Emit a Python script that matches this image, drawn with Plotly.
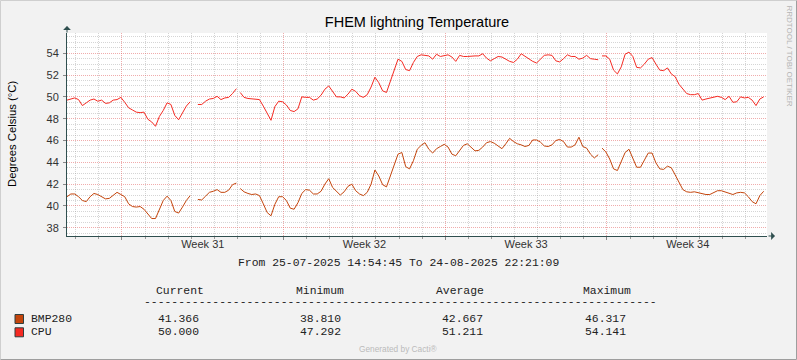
import numpy as np
import pandas as pd
import plotly.graph_objects as go

# ---------------- data ----------------
start_time = "2025-07-25 14:54:45"
end_time = "2025-08-24 22:21:09"
sample_step = "4h"

cpu_values = [
    49.7, 49.8, 49.9, 49.75, 49.2, 49.45, 49.7, 49.8, 49.6, 49.7,
    49.4, 49.45, 49.7, 49.75, 49.95, 49.5, 49.0, 48.8, 48.6, 48.55,
    48.6, 47.95, 47.7, 47.3, 48.2, 48.75, 49.45, 49.3, 48.3, 47.9,
    48.6, 49.15, 49.55, None, 49.3, 49.3, 49.6, 49.8, 49.85, 50.05,
    49.75, 49.9, 49.95, 50.3, 50.75, 50.4, 49.95, 49.85, 49.8, 49.8,
    49.75, 49.15, 48.45, 47.85, 49.1, 49.6, 49.55, 49.25, 48.75, 48.65,
    48.9, 50.0, 49.95, 49.95, 49.7, 49.8, 50.15, 50.7, 51.0, 50.45,
    50.0, 50.0, 49.9, 50.25, 50.7, 50.5, 50.1, 49.95, 50.2, 50.9,
    51.8, 51.3, 50.55, 50.4, 51.4, 52.5, 53.45, 53.25, 52.5, 52.4,
    53.15, 53.7, 53.85, 53.8, 53.75, 53.45, 53.9, 53.7, 53.8, 53.85,
    53.65, 53.25, 53.8, 53.7, 53.7, 53.75, 53.75, 53.75, 53.95, 53.55,
    53.3, 53.5, 53.7, 53.65, 53.45, 53.25, 53.15, 53.45, 53.95, 53.7,
    53.45, 53.25, 53.1, 53.45, 53.8, 53.85, 53.8, 53.3, 53.2, 53.5,
    53.85, 53.7, 53.7, 53.45, 53.55, 53.8, 53.5, 53.45, 53.4, 53.75,
    53.75, 53.45, 52.45, 52.1, 52.75, 53.9, 54.1, 53.7, 52.7, 52.65,
    53.0, 53.45, 53.6, 53.0, 52.45, 52.4, 52.65, 52.1, 51.85, 51.15,
    50.75, 50.3, 50.2, 50.2, 50.3, 49.7, 49.8, 49.9, 49.95, 50.05,
    49.95, 49.75, 50.05, 49.5, 49.55, 50.0, 49.9, 49.95, 49.7, 49.2,
    49.8, 50.0,
]

bmp_values = [
    40.85, 41.1, 41.1, 40.85, 40.5, 40.4, 40.85, 41.15, 41.05, 40.85,
    40.65, 40.7, 40.95, 41.25, 41.05, 40.85, 40.2, 39.95, 39.9, 39.95,
    39.7, 39.3, 38.85, 38.85, 39.7, 40.5, 40.9, 40.5, 39.5, 39.35,
    39.9, 40.5, 40.95, None, 40.6, 40.55, 40.9, 41.25, 41.35, 41.5,
    41.25, 41.25, 41.45, 41.95, 42.1, 41.6, 41.3, 41.15, 41.05, 41.1,
    40.95, 40.2, 39.4, 39.1, 40.15, 40.85, 40.85, 40.5, 39.8, 39.7,
    40.3, 41.15, 41.5, 41.45, 41.1, 41.1, 41.35, 42.0, 42.5, 41.7,
    41.3, 41.0, 41.3, 41.8, 42.0, 41.4, 41.1, 40.95, 41.25, 42.0,
    43.3, 42.75, 41.95, 41.75, 42.75, 43.8, 44.75, 44.9, 43.6, 43.4,
    44.15, 45.2, 45.55, 45.8, 45.2, 44.85, 45.25, 45.45, 45.65, 45.4,
    44.75, 44.6, 45.1, 45.55, 45.7, 45.4, 45.05, 45.1, 45.4, 45.8,
    45.9, 45.75, 45.5, 45.25, 45.7, 46.2, 45.9, 45.7, 45.6, 45.45,
    45.55, 46.05, 46.05, 45.85, 45.5, 45.45, 45.6, 46.0, 46.1, 45.9,
    45.4, 45.4, 45.6, 46.3, 45.45, 45.3, 44.75, 44.4, 44.7, 45.3,
    44.95, 44.3, 43.4, 43.25, 44.1, 44.9, 45.2, 44.45, 43.55, 43.55,
    44.15, 44.85, 44.85, 43.95, 43.4, 43.35, 43.65, 43.5, 42.85, 42.1,
    41.5, 41.3, 41.25, 41.3, 41.2, 41.15, 41.05, 41.05, 41.25, 41.4,
    41.4, 41.3, 41.2, 41.05, 41.2, 41.25, 41.2, 40.85, 40.4, 40.2,
    40.95, 41.35,
]

# times where the recorded data has holes
gap_times = ["2025-08-02 00:54:45", "2025-08-17 16:54:45"]

series_names = ["BMP280", "CPU"]
series_colors = ["#C4450C", "#F52A22"]
stat_headers = ["Current", "Minimum", "Average", "Maximum"]
stat_bmp = ["41.366", "38.810", "42.667", "46.317"]
stat_cpu = ["50.000", "47.292", "51.211", "54.141"]

week_label_times = ["2025-07-31 12:00", "2025-08-07 12:00",
                    "2025-08-14 12:00", "2025-08-21 12:00"]
week_labels = ["Week 31", "Week 32", "Week 33", "Week 34"]
week_start = "2025-07-28"

y_range = [37.25, 55.85]

title_text = "FHEM lightning Temperature"
y_title = "Degrees Celsius (°C)"
period_text = "From 25-07-2025 14:54:45 To 24-08-2025 22:21:09"

# ---------------- layout geometry ----------------
W, H = 797, 360
L, R, T, B = 67, 30, 33, 124
PW, PH = W - L - R, H - T - B


def px(x):
    return (x - L) / PW


def py(y):
    return (H - B - y) / PH


def build_series(values):
    times = pd.date_range(start_time, periods=len(values), freq=sample_step)
    s = pd.Series([np.nan if v is None else v for v in values], index=times, dtype=float)
    g = pd.Series(np.nan, index=pd.to_datetime(gap_times), dtype=float)
    s = pd.concat([s, g]).sort_index()
    return s


fig = go.Figure()
for name, vals, col in zip(series_names, [bmp_values, cpu_values], series_colors):
    s = build_series(vals)
    fig.add_trace(go.Scatter(x=s.index, y=s.values, mode="lines", name=name,
                             line=dict(color=col, width=1), connectgaps=False,
                             showlegend=False))

# dummy trace for label axis
fig.add_trace(go.Scatter(x=[start_time], y=[None], xaxis="x2", showlegend=False,
                         hoverinfo="skip"))

axis_col = "#2F4F4F"
major_grid = "rgba(225,90,90,0.5)"
minor_grid = "rgba(150,150,150,0.4)"
grid_dash = "1px,1px"
tick_font = dict(family="Liberation Sans", size=11, color="#333333")

fig.update_layout(
    width=W, height=H,
    margin=dict(l=L, r=R, t=T, b=B, pad=0),
    paper_bgcolor="#F2F2F2",
    plot_bgcolor="#FFFFFF",
    showlegend=False,
    title=dict(text=title_text, x=0.5, xref="paper", xanchor="center",
               y=1 - 22 / H, yref="container", yanchor="middle",
               font=dict(family="Liberation Sans", size=14.5, color="#000000")),
    xaxis=dict(type="date", range=[start_time, end_time],
               tick0=week_start, dtick=7 * 86400000,
               showgrid=True, gridcolor=major_grid, griddash=grid_dash, gridwidth=1,
               showticklabels=False, ticks="outside", ticklen=3, tickcolor="#888888",
               showline=True, linecolor=axis_col, linewidth=1, zeroline=False,
               minor=dict(tick0=week_start, dtick=86400000, showgrid=True,
                          gridcolor=minor_grid, griddash=grid_dash, gridwidth=1,
                          ticks="outside", ticklen=2, tickcolor="#999999")),
    xaxis2=dict(type="date", range=[start_time, end_time], overlaying="x",
                anchor="y", side="bottom", tickmode="array",
                tickvals=week_label_times, ticktext=week_labels,
                showgrid=False, showline=False, zeroline=False, ticks="",
                tickfont=tick_font),
    yaxis=dict(range=y_range, tick0=0, dtick=2,
               showgrid=True, gridcolor=major_grid, griddash=grid_dash, gridwidth=1,
               ticks="outside", ticklen=3, tickcolor="#888888",
               showline=True, linecolor=axis_col, linewidth=1, zeroline=False,
               tickfont=tick_font, ticklabelstandoff=2,
               minor=dict(dtick=0.5, showgrid=True, gridcolor=minor_grid,
                          griddash=grid_dash, gridwidth=1)),
)

ann = []
# y axis title
ann.append(dict(text=y_title, x=px(12), y=py(134), xref="paper", yref="paper",
                showarrow=False, textangle=-90, xanchor="center", yanchor="middle",
                font=dict(family="Liberation Sans", size=11.3, color="#000000")))
# axis arrows
ann.append(dict(text="", x=px(67), y=py(26), xref="paper", yref="paper",
                ax=0, ay=8, showarrow=True, arrowhead=1, arrowsize=1.3,
                arrowwidth=1, arrowcolor=axis_col))
ann.append(dict(text="", x=px(775), y=py(236), xref="paper", yref="paper",
                ax=-8, ay=0, showarrow=True, arrowhead=1, arrowsize=1.3,
                arrowwidth=1, arrowcolor=axis_col))
# watermark
ann.append(dict(text="RRDTOOL / TOBI OETIKER", x=px(788.5), y=py(56), xref="paper",
                yref="paper", showarrow=False, textangle=90, xanchor="center",
                yanchor="middle",
                font=dict(family="Liberation Sans", size=8, color="#B4B4B4")))
ann.append(dict(text="Generated by Cacti®", x=px(398), y=py(349), xref="paper",
                yref="paper", showarrow=False, xanchor="center", yanchor="middle",
                font=dict(family="Liberation Sans", size=8.3, color="#BBBBBB")))

mono = dict(family="Liberation Mono", size=11.4, color="#222222")
ann.append(dict(text=period_text, x=px(398.5), y=py(263), xref="paper", yref="paper",
                showarrow=False, xanchor="center", yanchor="middle", font=mono))

header_x = [179.7, 320.2, 460.0, 607.2]
value_x = [178.8, 320.9, 462.7, 605.5]
for h, xx in zip(stat_headers, header_x):
    ann.append(dict(text=h, x=px(xx), y=py(290.5), xref="paper", yref="paper",
                    showarrow=False, xanchor="center", yanchor="middle", font=mono))
ann.append(dict(text="-" * 75, x=px(400.4), y=py(302), xref="paper", yref="paper",
                showarrow=False, xanchor="center", yanchor="middle", font=mono))

row_y = [319, 332.3]
for name, stats, ry, col in zip(series_names, [stat_bmp, stat_cpu], row_y, series_colors):
    ann.append(dict(text=name, x=px(29), y=py(ry), xref="paper", yref="paper",
                    showarrow=False, xanchor="left", yanchor="middle", font=mono))
    for v, xx in zip(stats, value_x):
        ann.append(dict(text=v, x=px(xx), y=py(ry), xref="paper", yref="paper",
                        showarrow=False, xanchor="center", yanchor="middle", font=mono))

shapes = []
for ry, col in zip(row_y, series_colors):
    shapes.append(dict(type="rect", xref="paper", yref="paper",
                       x0=px(15), x1=px(23.5), y0=py(ry - 4.5), y1=py(ry + 4.5),
                       fillcolor=col, line=dict(color="#2F3F3F", width=1)))
# frame of the image
shapes.append(dict(type="line", xref="paper", yref="paper", x0=px(0.5), x1=px(796.5),
                   y0=py(0.5), y1=py(0.5), line=dict(color="#CFCFCF", width=1)))
shapes.append(dict(type="line", xref="paper", yref="paper", x0=px(0.5), x1=px(0.5),
                   y0=py(0.5), y1=py(359.5), line=dict(color="#CFCFCF", width=1)))
shapes.append(dict(type="line", xref="paper", yref="paper", x0=px(0.5), x1=px(796.5),
                   y0=py(359.5), y1=py(359.5), line=dict(color="#9E9E9E", width=1)))
shapes.append(dict(type="line", xref="paper", yref="paper", x0=px(796.5), x1=px(796.5),
                   y0=py(0.5), y1=py(359.5), line=dict(color="#9E9E9E", width=1)))

fig.update_layout(annotations=ann, shapes=shapes)
fig.write_html("out.html",
               config={"displayModeBar": False},
               post_script="document.body.style.margin='0px';"
                           "document.body.style.overflow='hidden';")
